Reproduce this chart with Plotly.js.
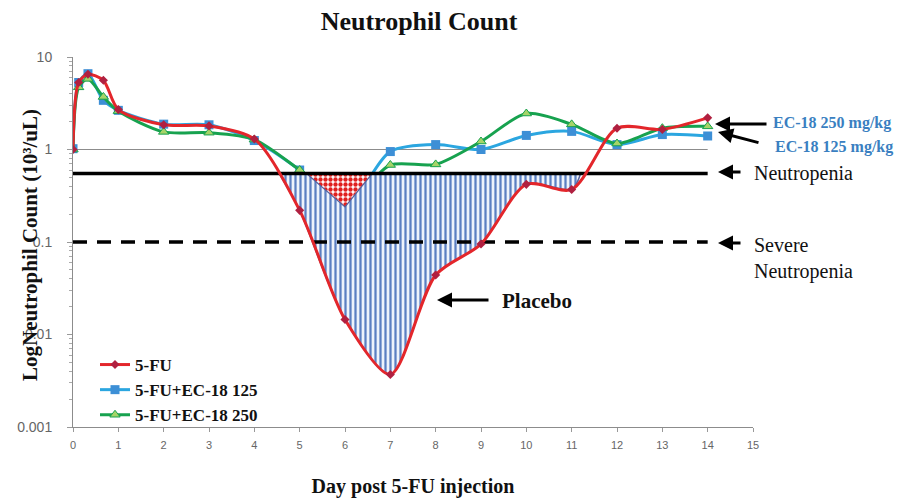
<!DOCTYPE html>
<html><head><meta charset="utf-8">
<script src="https://cdn.plot.ly/plotly-3.0.1.min.js"></script>
<style>html,body{margin:0;padding:0;background:#fff}#chart{width:912px;height:502px}</style>
</head><body><div id="chart"></div>
<script>
// ---- data ----
const days   = [0, 0.125, 0.33, 0.67, 1, 2, 3, 4, 5, 6, 7, 8, 9, 10, 11, 12, 13, 14];
const fu     = [1.0, 5.3, 6.5, 5.6, 2.7, 1.85, 1.8, 1.3, 0.22, 0.0145, 0.0037, 0.044, 0.095, 0.42, 0.37, 1.7, 1.65, 2.2];
const ec125  = [1.02, 5.3, 6.6, 3.4, 2.65, 1.88, 1.85, 1.25, 0.6, 0.24, 0.95, 1.13, 1.0, 1.42, 1.57, 1.13, 1.45, 1.4];
const ec250  = [1.0, 4.7, 5.8, 3.7, 2.6, 1.55, 1.52, 1.28, 0.6, 0.26, 0.68, 0.69, 1.22, 2.45, 1.87, 1.16, 1.7, 1.78];
const seriesNames = ['5-FU', '5-FU+EC-18 125', '5-FU+EC-18 250'];
const neutropeniaLevel = 0.55;
const severeLevel = 0.1;
const refLevel = 1;
const refLineDays = [0, 14];
const placeboCross = [4.55, 11.2];   // days where 5-FU crosses neutropenia level
const ec125Cross = [5.15, 6.6];      // days where EC-18 125 crosses neutropenia level
const xTicks = [0,1,2,3,4,5,6,7,8,9,10,11,12,13,14,15];
const yTickVals = [0.001, 0.01, 0.1, 1, 10];
const yTickText = ['0.001', '0.01', '0.1', '1', '10'];

// ---- build fill regions from the series ----
function belowRegion(series, cross) {
  const x = [cross[0]], y = [neutropeniaLevel];
  days.forEach((d, i) => { if (d > cross[0] && d < cross[1]) { x.push(d); y.push(series[i]); } });
  x.push(cross[1]); y.push(neutropeniaLevel);
  return {x, y};
}
const placeboFill = belowRegion(fu, placeboCross);
const ec125Fill = belowRegion(ec125, ec125Cross);

const minorVals = [];
for (let e = -3; e < 1; e++) for (let m = 2; m <= 9; m++) minorVals.push(m * Math.pow(10, e));

const serif = 'Liberation Serif, Times New Roman, serif';
const traces = [
  {x: refLineDays, y: [refLevel, refLevel], type: 'scatter', mode: 'lines',
   line: {color: '#8c8c8c', width: 1.2}, showlegend: false, hoverinfo: 'skip'},
  {x: days, y: ec125, name: seriesNames[1], type: 'scatter', mode: 'lines+markers', legendrank: 2,
   line: {color: '#2ba6e0', width: 3, shape: 'spline', smoothing: 0.8},
   marker: {symbol: 'square', size: 9, color: '#3d8fd6', line: {color: '#3d8fd6', width: 0}}},
  {x: days, y: ec250, name: seriesNames[2], type: 'scatter', mode: 'lines+markers', legendrank: 3,
   line: {color: '#17a24f', width: 3, shape: 'spline', smoothing: 0.8},
   marker: {symbol: 'triangle-up', size: 9, color: '#a6d468', line: {color: '#17a24f', width: 1}}},
  {x: placeboFill.x, y: placeboFill.y, type: 'scatter', mode: 'lines', fill: 'toself',
   line: {color: '#56609c', width: 1.5, shape: 'spline', smoothing: 0.8},
   fillcolor: '#e6edf8',
   fillpattern: {shape: '|', fgcolor: '#5b7fc2', bgcolor: '#eef3fb', size: 5, solidity: 0.45},
   showlegend: false, hoverinfo: 'skip'},
  {x: ec125Fill.x, y: ec125Fill.y, type: 'scatter', mode: 'lines', fill: 'toself',
   line: {color: '#56609c', width: 1.2},
   fillpattern: {shape: '.', fgcolor: '#e0201f', bgcolor: '#ffffff', size: 5, solidity: 0.6},
   showlegend: false, hoverinfo: 'skip'},
  {x: refLineDays, y: [neutropeniaLevel, neutropeniaLevel], type: 'scatter', mode: 'lines',
   line: {color: '#000', width: 3.5}, showlegend: false, hoverinfo: 'skip'},
  {x: refLineDays, y: [severeLevel, severeLevel], type: 'scatter', mode: 'lines',
   line: {color: '#000', width: 3.5, dash: '14px,10px'}, showlegend: false, hoverinfo: 'skip'},
  {x: days, y: fu, name: seriesNames[0], type: 'scatter', mode: 'lines+markers', legendrank: 1,
   line: {color: '#e3262b', width: 3, shape: 'spline', smoothing: 0.8},
   marker: {symbol: 'diamond', size: 7, color: '#b02040', line: {color: '#b02040', width: 0}}}
];

// pixel -> paper helpers (plot area 73..753 x 57..427)
const L = 73, R = 753, T = 57, B = 427;
const px = v => (v - L) / (R - L);
const py = v => (B - v) / (B - T);

function arrow(hx, hy, tx, ty) {
  return {xref: 'paper', yref: 'paper', x: px(hx), y: py(hy), ax: tx - hx, ay: ty - hy,
          text: '', showarrow: true, arrowhead: 2, arrowsize: 1, arrowwidth: 3, arrowcolor: '#000'};
}
function label(x, y, text, size, color) {
  return {xref: 'paper', yref: 'paper', x: px(x), y: py(y), xanchor: 'left', yanchor: 'middle',
          text, showarrow: false, align: 'left', font: {family: serif, size, color: color || '#111'}};
}

const annotations = [
  arrow(715, 124, 768, 124),
  arrow(718, 132, 760, 143),
  arrow(718, 172, 742, 172),
  arrow(718, 243, 742, 243),
  arrow(437, 300, 490, 300),
  label(771, 123, '<b>EC-18 250 mg/kg</b>', 16, '#3a7fc1'),
  label(773, 147, '<b>EC-18 125 mg/kg</b>', 16, '#3a7fc1'),
  label(752, 173, 'Neutropenia', 20),
  label(752, 258, 'Severe<br>Neutropenia', 20),
  label(500, 301, '<b>Placebo</b>', 21),
  {xref: 'paper', yref: 'paper', x: px(30), y: py(245), xanchor: 'center', yanchor: 'middle',
   textangle: -90, showarrow: false, text: '<b>LogNeutrophil Count (10³/uL)</b>',
   font: {family: serif, size: 21, color: '#111'}}
];

const layout = {
  width: 912, height: 502,
  margin: {l: L, r: 912 - R, t: T, b: 502 - B},
  paper_bgcolor: '#fff', plot_bgcolor: '#fff',
  title: {text: '<b>Neutrophil Count</b>', font: {family: serif, size: 26, color: '#111'},
          x: 419 / 912, xanchor: 'center', y: 1 - 21 / 502, yanchor: 'middle'},
  xaxis: {range: [0, 15], tickvals: xTicks, ticks: 'outside', ticklen: 4, tickcolor: '#999',
          showline: true, linecolor: '#8c8c8c', linewidth: 1, showgrid: false, zeroline: false,
          ticklabelstandoff: 4,
          tickfont: {family: 'Liberation Sans, Arial, sans-serif', size: 11, color: '#666'},
          title: {text: '<b>Day post 5-FU injection</b>', font: {family: serif, size: 20, color: '#111'}, standoff: 28}},
  yaxis: {type: 'log', range: [-3, 1], tickvals: yTickVals, ticktext: yTickText,
          ticks: 'outside', ticklen: 5, tickcolor: '#999', showline: true, linecolor: '#8c8c8c',
          linewidth: 1, showgrid: false, zeroline: false, ticklabelstandoff: 12,
          tickfont: {family: 'Liberation Sans, Arial, sans-serif', size: 14, color: '#666'},
          minor: {tickvals: minorVals, ticks: 'outside', ticklen: 3, tickcolor: '#aaa', showgrid: false}},
  legend: {x: px(95), y: py(347), xanchor: 'left', yanchor: 'top', bgcolor: 'rgba(0,0,0,0)',
           font: {family: serif, size: 17, color: '#111', weight: 'bold'}, tracegroupgap: 0, itemwidth: 30,
           traceorder: 'normal'},
  annotations,
  showlegend: true
};

Plotly.newPlot('chart', traces, layout, {displayModeBar: false, staticPlot: true});
</script></body></html>
